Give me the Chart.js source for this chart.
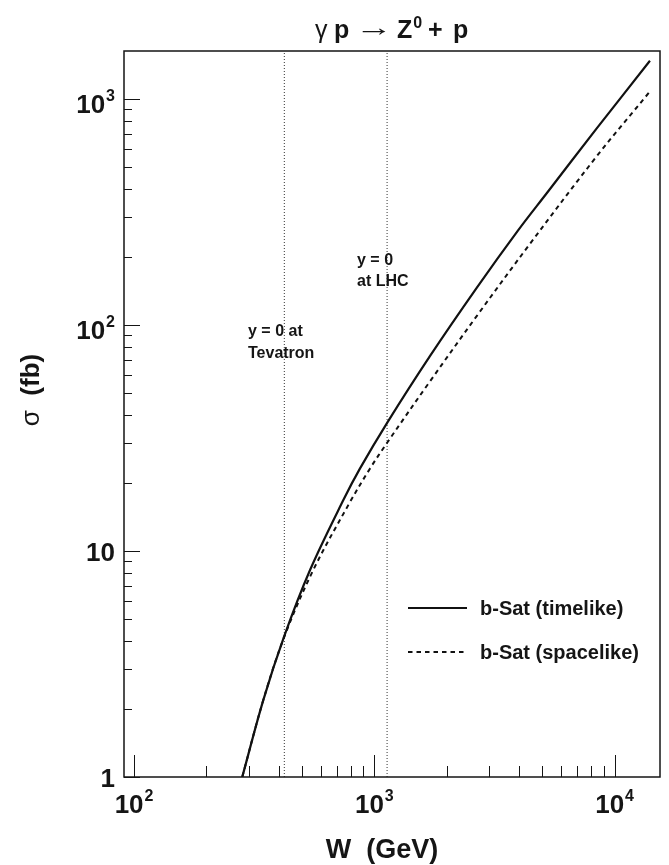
<!DOCTYPE html>
<html>
<head>
<meta charset="utf-8">
<script src="https://cdn.jsdelivr.net/npm/chart.js@4.4.1/dist/chart.umd.min.js"></script>
<style>
  html, body { margin: 0; padding: 0; background: #fff; }
  #wrap { width: 669px; height: 865px; }
</style>
</head>
<body>
<div id="wrap"><canvas id="xsecChart" width="669" height="865"></canvas></div>
<script>
// gamma p -> Z0 + p (W in GeV, sigma in fb)
const wTimelike = [282, 345, 421, 540, 743, 872, 1132, 1706, 2667, 3972, 5217, 8425, 14030];
const sigmaTimelike = [1.0, 2.19, 4.18, 8.24, 16.8, 23.2, 37.0, 73.0, 146, 263, 383, 741, 1477];

const wSpacelike = [282, 345, 421, 557, 780, 960, 1132, 1706, 2667, 4447, 8425, 14030];
const sigmaSpacelike = [1.0, 2.19, 4.15, 8.24, 16.0, 23.2, 30.2, 56.4, 109.5, 229, 558, 1080];

// y = 0 positions at the two colliders
const wMarkers = [422, 1130];
const markerLabels = [['y = 0 at', 'Tevatron'], ['y = 0', 'at LHC']];

const seriesNames = ['b-Sat (timelike)', 'b-Sat (spacelike)'];

const xRange = [90.8, 15450];
const yRange = [1, 1631];

const xMajorTicks = [100, 1000, 10000];
const xMinorTicks = [200, 300, 400, 500, 600, 700, 800, 900, 2000, 3000, 4000, 5000, 6000, 7000, 8000, 9000];
const xTickLabels = [['10', '2'], ['10', '3'], ['10', '4']];

const yMajorTicks = [1, 10, 100, 1000];
const yMinorTicks = [2, 3, 4, 5, 6, 7, 8, 9, 20, 30, 40, 50, 60, 70, 80, 90, 200, 300, 400, 500, 600, 700, 800, 900];
const yTickLabels = [['1', ''], ['10', ''], ['10', '2'], ['10', '3']];

const FONT = '"Liberation Sans", Arial, Helvetica, sans-serif';
const INK = '#151515';

function toPoints(xs, ys) {
    return xs.map((x, i) => ({ x: x, y: ys[i] }));
}

function drawPower(ctx, base, exp, x, y, align, bigSize, smallSize, rise) {
    ctx.font = 'bold ' + bigSize + 'px ' + FONT;
    const wb = ctx.measureText(base).width;
    ctx.font = 'bold ' + smallSize + 'px ' + FONT;
    const we = exp ? ctx.measureText(exp).width + 1 : 0;
    let left = x;
    if (align === 'right') left = x - wb - we;
    if (align === 'center') left = x - (wb + we) / 2;
    ctx.textAlign = 'left';
    ctx.textBaseline = 'alphabetic';
    ctx.font = 'bold ' + bigSize + 'px ' + FONT;
    ctx.fillText(base, left, y);
    if (exp) {
        ctx.font = 'bold ' + smallSize + 'px ' + FONT;
        ctx.fillText(exp, left + wb + 1, y - rise);
    }
}

const decorPlugin = {
    id: 'decor',
    afterDraw(chart) {
        const ctx = chart.ctx;
        const xs = chart.scales.x;
        const ys = chart.scales.y;
        const a = chart.chartArea;
        ctx.save();
        ctx.fillStyle = INK;
        ctx.strokeStyle = INK;

        // frame
        ctx.lineWidth = 1.5;
        ctx.strokeRect(a.left, a.top, a.right - a.left, a.bottom - a.top);

        // x ticks (inside, from the bottom)
        ctx.lineWidth = 1;
        xMajorTicks.concat(xMinorTicks).forEach(v => {
            const px = Math.round(xs.getPixelForValue(v)) + 0.5;
            const len = xMajorTicks.includes(v) ? 22 : 11;
            ctx.beginPath();
            ctx.moveTo(px, a.bottom);
            ctx.lineTo(px, a.bottom - len);
            ctx.stroke();
        });
        // y ticks (inside, from the left)
        yMajorTicks.concat(yMinorTicks).forEach(v => {
            const py = Math.round(ys.getPixelForValue(v)) + 0.5;
            const len = yMajorTicks.includes(v) ? 16 : 8;
            ctx.beginPath();
            ctx.moveTo(a.left, py);
            ctx.lineTo(a.left + len, py);
            ctx.stroke();
        });

        // tick labels
        xMajorTicks.forEach((v, i) => {
            const px = xs.getPixelForValue(v);
            drawPower(ctx, xTickLabels[i][0], xTickLabels[i][1], px, a.bottom + 36, 'center', 26, 16, 12);
        });
        yMajorTicks.forEach((v, i) => {
            const py = ys.getPixelForValue(v);
            const lab = yTickLabels[i];
            drawPower(ctx, lab[0], lab[1], 115, py + (lab[1] ? 14 : 10), 'right', 26, 16, 12);
        });

        // axis titles
        ctx.textAlign = 'center';
        ctx.font = 'bold 27px ' + FONT;
        ctx.fillText('W  (GeV)', 382, 858);
        ctx.save();
        ctx.translate(39, 390);
        ctx.rotate(-Math.PI / 2);
        ctx.textAlign = 'left';
        ctx.font = '26px ' + FONT;
        const wSig = ctx.measureText('\u03c3').width;
        ctx.font = 'bold 26px ' + FONT;
        const wRest = ctx.measureText('  (fb)').width;
        const x0 = -(wSig + wRest) / 2;
        ctx.font = '26px ' + FONT;
        ctx.fillText('\u03c3', x0, 0);
        ctx.font = 'bold 26px ' + FONT;
        ctx.fillText('  (fb)', x0 + wSig, 0);
        ctx.restore();

        // title: gamma p -> Z0 + p
        ctx.textAlign = 'left';
        const tb = 38;
        ctx.font = '25px ' + FONT;
        ctx.fillText('\u03b3', 315, tb);
        ctx.font = 'bold 25px ' + FONT;
        ctx.fillText('p', 334, tb);
        ctx.save();
        ctx.font = '25px ' + FONT;
        const arrW = ctx.measureText('\u2192').width;
        ctx.translate(355, tb - 2);
        ctx.scale(38 / arrW, 1);
        ctx.fillText('\u2192', 0, 0);
        ctx.restore();
        drawPower(ctx, 'Z', '0', 397, tb, 'left', 25, 16, 10);
        ctx.font = 'bold 25px ' + FONT;
        ctx.fillText('+', 428, tb);
        ctx.fillText('p', 453, tb);

        // collider labels
        ctx.font = 'bold 16px ' + FONT;
        const labelPos = [[248, 336, 357.5], [357, 264.5, 286]];
        markerLabels.forEach((lines, i) => {
            ctx.fillText(lines[0], labelPos[i][0], labelPos[i][1]);
            ctx.fillText(lines[1], labelPos[i][0], labelPos[i][2]);
        });

        // legend
        const legY = [608, 652];
        chart.data.datasets.slice(0, 2).forEach((ds, i) => {
            ctx.save();
            ctx.lineWidth = ds.borderWidth;
            ctx.setLineDash(ds.borderDash || []);
            ctx.strokeStyle = ds.borderColor;
            ctx.beginPath();
            ctx.moveTo(408, legY[i]);
            ctx.lineTo(467, legY[i]);
            ctx.stroke();
            ctx.restore();
            ctx.font = 'bold 20px ' + FONT;
            ctx.textBaseline = 'middle';
            ctx.fillText(seriesNames[i], 480, legY[i] + 1);
            ctx.textBaseline = 'alphabetic';
        });

        ctx.restore();
    }
};

const markerSets = wMarkers.map(w => ({
    data: toPoints([w, w], yRange),
    showLine: true,
    borderColor: '#333',
    borderWidth: 1,
    borderDash: [1, 2],
    pointRadius: 0,
    tension: 0
}));

new Chart(document.getElementById('xsecChart'), {
    type: 'scatter',
    data: {
        datasets: [
            {
                label: seriesNames[0],
                data: toPoints(wTimelike, sigmaTimelike),
                showLine: true,
                borderColor: '#111',
                borderWidth: 2.2,
                pointRadius: 0,
                tension: 0.35
            },
            {
                label: seriesNames[1],
                data: toPoints(wSpacelike, sigmaSpacelike),
                showLine: true,
                borderColor: '#111',
                borderWidth: 2,
                borderDash: [4.5, 4],
                pointRadius: 0,
                tension: 0.35
            }
        ].concat(markerSets)
    },
    options: {
        responsive: false,
        devicePixelRatio: 1,
        animation: false,
        layout: { padding: { left: 124, right: 9, top: 51, bottom: 88 } },
        plugins: { legend: { display: false }, tooltip: { enabled: false } },
        scales: {
            x: { type: 'logarithmic', min: xRange[0], max: xRange[1], display: false },
            y: { type: 'logarithmic', min: yRange[0], max: yRange[1], display: false }
        }
    },
    plugins: [decorPlugin]
});
</script>
</body>
</html>
